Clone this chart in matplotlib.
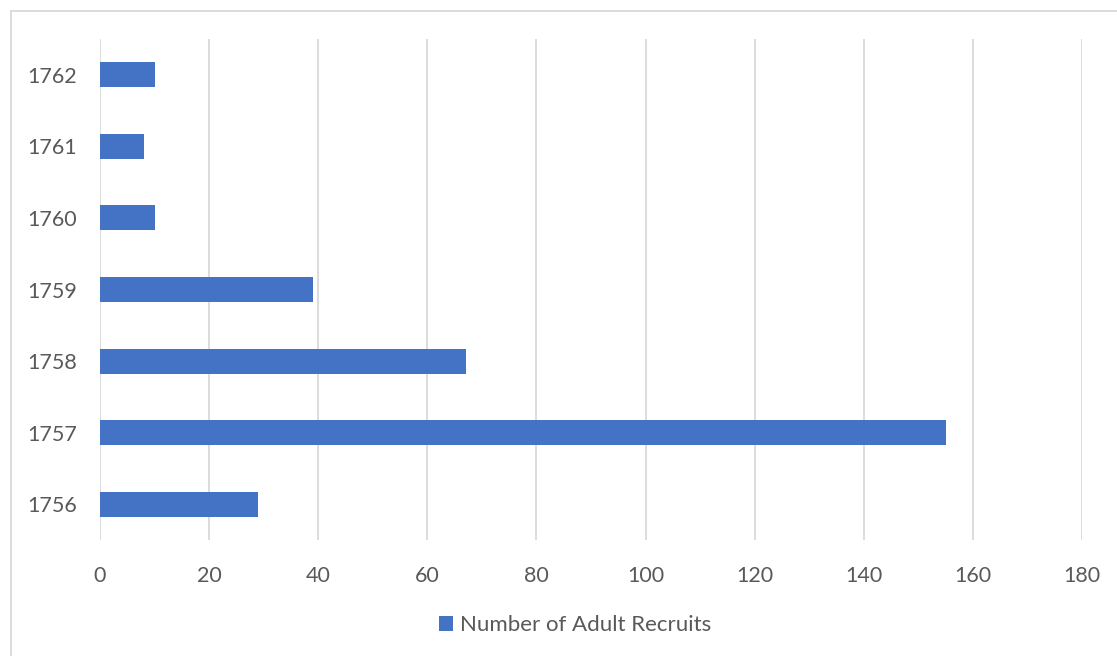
import matplotlib.pyplot as plt
from matplotlib.patches import Rectangle, Patch

years = ["1756", "1757", "1758", "1759", "1760", "1761", "1762"]
recruits = [29, 155, 67, 39, 10, 8, 10]
xticks = [0, 20, 40, 60, 80, 100, 120, 140, 160, 180]

plt.rcParams['font.family'] = ['Lato', 'DejaVu Sans']
text_color = "#595959"
bar_color = "#4472c4"

W, H = 1117, 656
fig = plt.figure(figsize=(W / 100, H / 100), dpi=100)
ax = fig.add_axes([100 / W, 1 - 540 / H, (1082 - 100) / W, (540 - 39) / H])

ypos = list(range(len(years)))
ax.barh(ypos, recruits, height=0.35, color=bar_color, zorder=3)

ax.set_xlim(0, 180)
ax.set_ylim(-0.5, len(years) - 0.5)
ax.set_xticks(xticks)
ax.set_xticklabels([str(t) for t in xticks])
ax.set_yticks(ypos)
ax.set_yticklabels(years)
ax.grid(axis="x", color="#d9d9d9", linewidth=1.3, zorder=0)
for s in ax.spines.values():
    s.set_visible(False)
ax.tick_params(length=0, labelsize=15.5, colors=text_color)
ax.tick_params(axis="x", pad=19)
ax.tick_params(axis="y", pad=16.5)

# outer chart frame
fig.add_artist(Rectangle((11 / W, -0.1), 2, 1.1 - 11 / H, transform=fig.transFigure,
                         fill=False, edgecolor="#d9d9d9", linewidth=1.3))

handle = Patch(facecolor=bar_color, label="Number of Adult Recruits")
fig.legend(handles=[handle], loc="center", bbox_to_anchor=(575 / W, 1 - 625 / H),
           frameon=False, fontsize=16, labelcolor=text_color,
           handlelength=0.65, handleheight=0.65, handletextpad=0.3)

fig.savefig("out.png", dpi=100)
